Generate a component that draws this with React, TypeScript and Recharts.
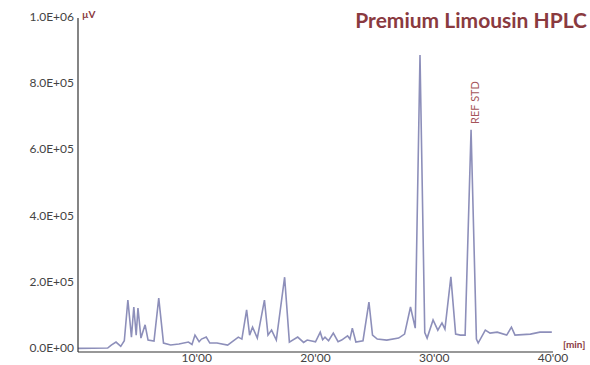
import React from 'react'
import { LineChart, Line, XAxis, YAxis, ReferenceDot } from 'recharts'

// retention time (min) and detector signal (µV)
const times = [
  0, 2.5, 2.8, 3.2, 3.6, 3.9, 4.2, 4.5, 4.7, 4.9, 5.05, 5.3, 5.65, 5.9, 6.4, 6.8, 7.2, 7.8, 8.5, 9.3,
  9.6, 9.85, 10.2, 10.4, 10.8, 11.1, 11.7, 12.6, 13.5, 13.8, 14.2, 14.45, 14.7, 15.1, 15.7, 16.0, 16.3,
  16.7, 17.4, 17.8, 18.5, 19.0, 19.3, 20.0, 20.4, 20.6, 20.8, 21.1, 21.5, 21.9, 22.2, 22.7, 22.9, 23.1,
  23.4, 24.0, 24.5, 24.8, 25.2, 26.0, 27.0, 27.5, 28.0, 28.4, 28.8, 29.2, 29.4, 29.9, 30.3, 30.65, 30.9,
  31.4, 31.8, 32.2, 32.6, 33.1, 33.55, 33.7, 34.3, 34.7, 35.3, 36.1, 36.5, 36.8, 38.1, 38.9, 39.9,
]
const signal = [
  2000, 3000, 12000, 21000, 8000, 25000, 148000, 36000, 127000, 42000, 124000, 33000, 73000, 27000,
  24000, 154000, 18000, 12000, 15000, 21000, 14000, 42000, 22000, 30000, 36000, 18000, 18000, 12000,
  36000, 30000, 118000, 42000, 66000, 33000, 148000, 42000, 57000, 27000, 217000, 21000, 36000, 20000,
  27000, 22000, 51000, 28000, 36000, 25000, 48000, 22000, 27000, 40000, 30000, 63000, 21000, 25000,
  142000, 42000, 30000, 27000, 33000, 45000, 127000, 63000, 888000, 50000, 33000, 88000, 57000, 79000,
  60000, 218000, 45000, 42000, 42000, 662000, 30000, 18000, 57000, 48000, 51000, 42000, 66000, 42000,
  45000, 51000, 51000,
]

const xTicks = [10, 20, 30, 40]
const xTickLabels = ["10'00", "20'00", "30'00", "40'00"]
const yTicks = [0, 200000, 400000, 600000, 800000, 1000000]
const yTickLabels = ['0.0E+00', '2.0E+05', '4.0E+05', '6.0E+05', '8.0E+05', '1.0E+06']

const refStd = { t: 33.1, v: 662000, label: 'REF STD' }

const data = times.map((t, i) => ({ t, v: signal[i] }))

const accent = '#8a3a3f'
const font = 'Lato, "Open Sans", sans-serif'

const XTick = ({ x, y, payload }: any) => {
  const i = xTicks.indexOf(payload.value)
  return (
    <text x={x} y={y + 10} textAnchor="middle" fontSize={12} fontFamily={font} fill="#444">
      {xTickLabels[i]}
    </text>
  )
}

const YTick = ({ x, y, payload }: any) => {
  const i = yTicks.indexOf(payload.value)
  return (
    <text x={x - 4} y={y + 3} textAnchor="end" fontSize={12} fontFamily={font} fill="#444">
      {yTickLabels[i]}
    </text>
  )
}

const RefLabel = ({ cx, cy }: any) => (
  <text
    transform={`translate(${cx + 8}, ${cy - 6}) rotate(-90)`}
    fontSize={11}
    fontFamily={font}
    fill="#a5555a"
  >
    {refStd.label}
  </text>
)

export default function App() {
  return (
    <div style={{ position: 'absolute', left: 0, top: 0, width: 590, height: 365, background: '#fff' }}>
      <LineChart width={590} height={365} data={data} margin={{ top: 18, right: 37, bottom: 0, left: 0 }}>
        <XAxis
          dataKey="t"
          type="number"
          domain={[0, 40]}
          ticks={xTicks}
          tick={<XTick />}
          tickLine={false}
          tickSize={0}
          tickMargin={0}
          height={13}
          axisLine={{ stroke: '#333', strokeWidth: 1.2 }}
        />
        <YAxis
          type="number"
          domain={[-9000, 1000000]}
          ticks={yTicks}
          tick={<YTick />}
          tickLine={false}
          tickSize={0}
          tickMargin={0}
          width={78}
          axisLine={{ stroke: '#333', strokeWidth: 1.2 }}
        />
        <Line
          type="linear"
          dataKey="v"
          stroke="#8d8fba"
          strokeWidth={1.6}
          dot={false}
          isAnimationActive={false}
        />
        <ReferenceDot x={refStd.t} y={refStd.v} r={0} shape={<RefLabel />} />
      </LineChart>
      <div
        style={{
          position: 'absolute',
          right: 3,
          top: 8,
          fontFamily: font,
          fontWeight: 700,
          fontSize: 21,
          color: accent,
          lineHeight: '24px',
        }}
      >
        Premium Limousin HPLC
      </div>
      <div
        style={{ position: 'absolute', left: 82, top: 8, fontFamily: font, fontWeight: 700, fontSize: 10, color: accent }}
      >
        µV
      </div>
      <div
        style={{ position: 'absolute', left: 563, top: 338, fontFamily: font, fontWeight: 700, fontSize: 10, color: accent }}
      >
        [min]
      </div>
    </div>
  )
}
